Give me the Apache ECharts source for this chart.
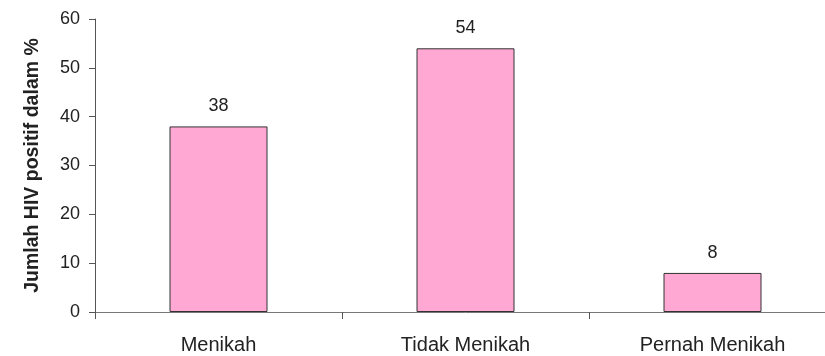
<!DOCTYPE html>
<html>
<head>
<meta charset="utf-8">
<script src="https://cdn.jsdelivr.net/npm/echarts@6/dist/echarts.min.js"></script>
<style>
  html, body { margin: 0; padding: 0; background: #fff; overflow: hidden; }
  /* the category axis runs past the right edge in the reference */
  #chart { width: 840px; height: 356px; }
</style>
</head>
<body>
<div id="chart"></div>
<script>
// data
var categories = ['Menikah', 'Tidak Menikah', 'Pernah Menikah'];
var values = [38, 54, 8];
var yTicks = [0, 10, 20, 30, 40, 50, 60];

var chart = echarts.init(document.getElementById('chart'));

var option = {
  animation: false,
  textStyle: { fontFamily: 'Liberation Sans, Arial, sans-serif' },
  grid: { left: 95, top: 19, width: 741, height: 293, containLabel: false },
  xAxis: {
    type: 'category',
    data: categories,
    boundaryGap: true,
    axisLine: { lineStyle: { color: '#777', width: 1 } },
    axisTick: { show: true, length: 7, lineStyle: { color: '#555' } },
    axisLabel: { color: '#222', fontSize: 20, margin: 23 }
  },
  yAxis: {
    type: 'value',
    min: yTicks[0],
    max: yTicks[yTicks.length - 1],
    interval: 10,
    name: 'Jumlah HIV positif dalam %',
    nameLocation: 'middle',
    nameRotate: 90,
    nameGap: 52,
    nameTextStyle: { color: '#222', fontSize: 19.5, fontWeight: 'bold' },
    axisLine: { show: true, lineStyle: { color: '#555', width: 1 } },
    axisTick: { show: true, length: 6, lineStyle: { color: '#555' } },
    axisLabel: { color: '#222', fontSize: 18, margin: 15 },
    splitLine: { show: false }
  },
  series: [{
    type: 'bar',
    data: values,
    barWidth: 98,
    itemStyle: { color: '#FFA8D3', borderColor: '#333', borderWidth: 1 },
    label: { show: true, position: 'top', distance: 11, color: '#222', fontSize: 18 }
  }]
};

chart.setOption(option);
</script>
</body>
</html>
